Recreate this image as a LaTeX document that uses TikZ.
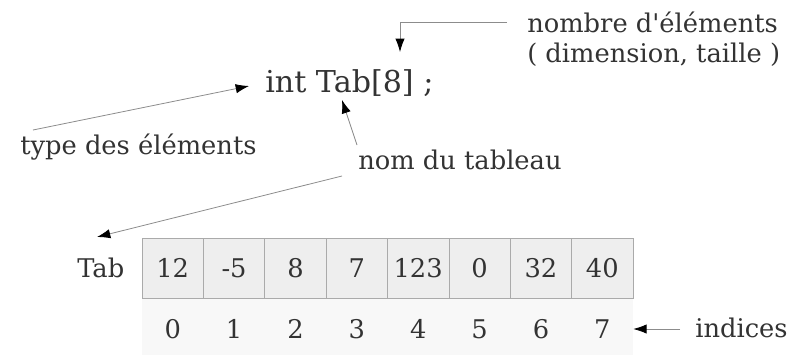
\documentclass[tikz,border=0pt]{standalone}
\usepackage{fontspec}
\setmainfont{DejaVu Serif}
\usepackage{xcolor}
\usepackage{tikz}
\definecolor{textgray}{RGB}{51, 51, 51}
\definecolor{linegray}{RGB}{140, 140, 140}
\definecolor{cellfill}{RGB}{238, 238, 238}
\definecolor{cellborder}{RGB}{170, 170, 170}
\definecolor{indexfill}{RGB}{248, 248, 248}
\usetikzlibrary{arrows.meta, positioning, calc}

\begin{document}
\begin{tikzpicture}[
    x=0.75pt, y=-0.75pt,
    lbl/.style={text=textgray, font=\fontsize{19.3}{23}\selectfont, inner sep=0pt, anchor=base west},
    cell/.style={rectangle, draw=cellborder, fill=cellfill, minimum width=46.05pt, minimum height=45pt, inner sep=0pt, text=textgray, font=\fontsize{19.3}{23}\selectfont},
    idx/.style={text=textgray, font=\fontsize{19.3}{23}\selectfont, inner sep=0pt},
    arrow/.style={draw=linegray, line width=0.6pt, -{Latex[length=10pt, width=7pt, color=black]}}
]
    \useasboundingbox (0, 0) rectangle (793, 355);

    % Declaration
    \node[lbl, font=\fontsize{22.6}{27}\selectfont] (decl) at (265, 92) {int Tab[8] ;};
    \node[lbl] (nombre) at (527, 32) {nombre d\textquotesingle éléments};
    \node[lbl] (dim) at (527, 62) {( dimension, taille )};
    \node[lbl] (type) at (20, 154) {type des éléments};
    \node[lbl] (nom) at (358, 169) {nom du tableau};

    % Array
    \fill[indexfill] (142, 298) rectangle (633, 355);
    \node[lbl] (tab) at (77, 277) {Tab};
    \foreach \v [count=\i from 0] in {12, -5, 8, 7, 123, 0, 32, 40} {
        \node[cell] (c\i) at ({142 + 61.375*(\i + 0.5)}, 268) {\v};
        \node[idx] (i\i) at ({142 + 61.375*(\i + 0.5)}, 329) {\i};
    }
    \node[lbl] (indices) at (695, 337) {indices};

    % Arrow ends
    \coordinate (nombrestart) at (507, 22);
    \coordinate (eight) at (400, 52);
    \coordinate (typestart) at (33, 130);
    \coordinate (typetip) at (249, 86);
    \coordinate (nomup) at (357, 145);
    \coordinate (nomtip) at (342, 100);
    \coordinate (nomleft) at (342, 176);
    \coordinate (tabtip) at (97, 237);
    \coordinate (idxstart) at (680, 329);

    % Arrows
    \draw[arrow] (nombrestart) -| (eight);
    \draw[arrow] (typestart) -- (typetip);
    \draw[arrow] (nomup) -- (nomtip);
    \draw[arrow] (nomleft) -- (tabtip);
    \draw[arrow] (idxstart) -- (c7.east |- i7);
\end{tikzpicture}
\end{document}
